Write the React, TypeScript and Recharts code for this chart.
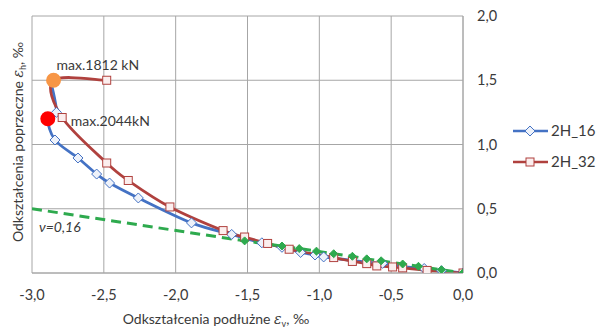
import React from 'react';
import { ComposedChart, Line, XAxis, YAxis, CartesianGrid, ReferenceDot, Customized, Label } from 'recharts';

// ---- data ----
const X_TICKS = [-3, -2.5, -2, -1.5, -1, -0.5, 0];
const Y_TICKS = [0, 0.5, 1, 1.5, 2];

const S16_X = [0, -0.15, -0.27, -0.42, -0.56, -0.67, -0.97, -1.03, -1.13, -1.26, -1.4, -1.61, -1.89, -2.26, -2.46, -2.55, -2.68, -2.84, -2.89, -2.83, -2.86];
const S16_Y = [0, 0.018, 0.035, 0.05, 0.075, 0.085, 0.125, 0.14, 0.16, 0.2, 0.235, 0.3, 0.39, 0.584, 0.7, 0.77, 0.895, 1.035, 1.2, 1.25, 1.45];

const S32_X = [0, -0.25, -0.42, -0.49, -0.6, -0.67, -0.77, -0.9, -1.21, -1.36, -1.52, -1.67, -2.04, -2.33, -2.48, -2.79, -2.85, -2.48];
const S32_Y = [0, 0.02, 0.04, 0.047, 0.055, 0.073, 0.09, 0.12, 0.185, 0.23, 0.28, 0.33, 0.514, 0.72, 0.856, 1.21, 1.5, 1.5];

const NU_X = [-3, -1.52, -1.26, -1.14, -1.02, -0.9, -0.77, -0.67, -0.57, -0.42, -0.31, -0.15, 0];
const NU_Y = [0.5, 0.25, 0.21, 0.19, 0.17, 0.15, 0.13, 0.11, 0.095, 0.07, 0.052, 0.025, 0];

const MAX_32 = { x: -2.85, y: 1.5, label: 'max.1812 kN' };
const MAX_16 = { x: -2.89, y: 1.2, label: 'max.2044kN' };
const NU_LABEL = { x: -3, y: 0.5, label: 'ν=0,16' };

const SERIES_NAMES = ['2H_16', '2H_32'];

const s16 = S16_X.map((x, i) => ({ x, y: S16_Y[i] }));
const s32 = S32_X.map((x, i) => ({ x, y: S32_Y[i] }));
const nu = NU_X.map((x, i) => ({ x, y: NU_Y[i] }));

// ---- styles ----
const FONT = 'Lato, "Open Sans", sans-serif';
const TEXT = '#3a3a3a';
const GRID = '#a6a6a6';
const BLUE = '#4472c4';
const RED = '#b0413e';
const GREEN = '#2eaa4e';

const fmt = (v: number) => v.toFixed(1).replace('.', ',');

// Excel-like smoothed curve (Catmull-Rom)
const smoothCurve: any = (context: any) => {
  let pts: number[][] = [];
  return {
    areaStart() {},
    areaEnd() {},
    lineStart() {
      pts = [];
    },
    point(x: number, y: number) {
      pts.push([+x, +y]);
    },
    lineEnd() {
      const n = pts.length;
      if (!n) return;
      context.moveTo(pts[0][0], pts[0][1]);
      const t = 1 / 6;
      for (let i = 0; i < n - 1; i++) {
        const p0 = pts[i - 1] || pts[i];
        const p1 = pts[i];
        const p2 = pts[i + 1];
        const p3 = pts[i + 2] || pts[i + 1];
        context.bezierCurveTo(
          p1[0] + (p2[0] - p0[0]) * t,
          p1[1] + (p2[1] - p0[1]) * t,
          p2[0] - (p3[0] - p1[0]) * t,
          p2[1] - (p3[1] - p1[1]) * t,
          p2[0],
          p2[1]
        );
      }
    },
  };
};

const Diamond = ({ cx, cy, color, fill, s = 5 }: any) => (
  <path
    d={`M${cx},${cy - s}L${cx + s},${cy}L${cx},${cy + s}L${cx - s},${cy}Z`}
    stroke={color}
    strokeWidth={1}
    fill={fill}
  />
);
const Square = ({ cx, cy, color, fill, s = 4 }: any) => (
  <rect x={cx - s} y={cy - s} width={2 * s} height={2 * s} stroke={color} strokeWidth={1} fill={fill} />
);

const dot16 = (props: any) => {
  const { cx, cy, index } = props;
  if (index === S16_X.length - 1 || cx == null) return <g key={`d16-${index}`} />;
  return <Diamond key={`d16-${index}`} cx={cx} cy={cy} color={BLUE} fill="#eef2fa" />;
};
const dot32 = (props: any) => {
  const { cx, cy, index } = props;
  if (cx == null) return <g key={`d32-${index}`} />;
  return <Square key={`d32-${index}`} cx={cx} cy={cy} color={RED} fill="#fbeeee" />;
};
const dotNu = (props: any) => {
  const { cx, cy, index } = props;
  if (index === 0 || cx == null) return <g key={`dn-${index}`} />;
  return <Diamond key={`dn-${index}`} cx={cx} cy={cy} color={GREEN} fill={GREEN} s={4} />;
};

const legendColors = [BLUE, RED];

const LegendBox = () => (
  <g>
    {SERIES_NAMES.map((name, i) => {
      const y = 131 + i * 31;
      return (
        <g key={name}>
          <line x1={513} x2={548} y1={y} y2={y} stroke={legendColors[i]} strokeWidth={2.5} />
          {i === 0 ? (
            <Diamond cx={530} cy={y} color={BLUE} fill="#eef2fa" />
          ) : (
            <Square cx={530} cy={y} color={RED} fill="#fbeeee" />
          )}
          <text x={551} y={y} dy="0.36em" fontFamily={FONT} fontSize={15} fill={TEXT}>
            {name}
          </text>
        </g>
      );
    })}
  </g>
);

const XTitle = (props: any) => {
  const vb = props.viewBox || { x: 0, y: 0, width: 0, height: 0 };
  return (
    <text x={216} y={vb.y + 51} textAnchor="middle" fontFamily={FONT} fontSize={14} fill={TEXT}>
      Odkształcenia podłużne{' '}
      <tspan fontStyle="italic" fontFamily="'DejaVu Serif', serif">ε</tspan>
      <tspan fontSize={9} dy={3}>v</tspan>
      <tspan dy={-3}>, ‰</tspan>
    </text>
  );
};

const YTitle = () => (
  <text
    x={0}
    y={0}
    transform="translate(23,142) rotate(-90)"
    textAnchor="middle"
    fontFamily={FONT}
    fontSize={14}
    fill={TEXT}
  >
    Odkształcenia poprzeczne{' '}
    <tspan fontStyle="italic" fontFamily="'DejaVu Serif', serif">ε</tspan>
    <tspan fontSize={9} dy={3}>h</tspan>
    <tspan dy={-3}>, ‰</tspan>
  </text>
);

const makeLabel = (text: string, dx: number, dy: number, italic = false) => (props: any) => {
  const vb = props.viewBox || { x: 0, y: 0, width: 0, height: 0 };
  const cx = vb.x + (vb.width || 0) / 2;
  const cy = vb.y + (vb.height || 0) / 2;
  return (
    <text
      x={cx + dx}
      y={cy + dy}
      dy="0.36em"
      fontFamily={FONT}
      fontSize={14}
      fontStyle={italic ? 'italic' : 'normal'}
      fill={TEXT}
    >
      {text}
    </text>
  );
};

export default function App() {
  return (
    <div style={{ position: 'absolute', left: 0, top: 0, width: 601, height: 333, background: '#fff' }}>
      <ComposedChart width={601} height={333} margin={{ top: 16, right: 88, bottom: 10, left: 0 }}>
        <CartesianGrid stroke={GRID} strokeWidth={1} />
        <XAxis
          type="number"
          dataKey="x"
          domain={[-3, 0]}
          ticks={X_TICKS}
          tickFormatter={fmt}
          allowDataOverflow
          height={50}
          tickSize={0}
          tickMargin={17}
          tickLine={false}
          axisLine={{ stroke: GRID }}
          tick={{ fontSize: 14.5, fill: TEXT, fontFamily: FONT }}
          label={<Label content={XTitle} />}
        />
        <YAxis
          yAxisId="title"
          orientation="left"
          width={32}
          domain={[0, 2]}
          tick={false}
          tickLine={false}
          axisLine={false}
          label={<Label content={YTitle} />}
        />
        <YAxis
          type="number"
          orientation="right"
          domain={[0, 2]}
          ticks={Y_TICKS}
          tickFormatter={fmt}
          allowDataOverflow
          width={50}
          tickSize={0}
          tickMargin={14}
          tickLine={false}
          axisLine={{ stroke: GRID }}
          tick={{ fontSize: 14.5, fill: TEXT, fontFamily: FONT, textAnchor: 'start' }}
        />
        <Line
          data={s16}
          dataKey="y"
          name={SERIES_NAMES[0]}
          type={smoothCurve}
          stroke={BLUE}
          strokeWidth={2.75}
          dot={dot16}
          activeDot={false}
          isAnimationActive={false}
        />
        <Line
          data={s32}
          dataKey="y"
          name={SERIES_NAMES[1]}
          type={smoothCurve}
          stroke={RED}
          strokeWidth={2.75}
          dot={dot32}
          activeDot={false}
          isAnimationActive={false}
        />
        <Line
          data={nu}
          dataKey="y"
          name="nu"
          type="linear"
          stroke={GREEN}
          strokeWidth={3}
          strokeDasharray="10 6"
          dot={dotNu}
          activeDot={false}
          isAnimationActive={false}
        />
        <ReferenceDot
          x={MAX_32.x}
          y={MAX_32.y}
          r={7.5}
          fill="#f79646"
          stroke="none"
          label={<Label content={makeLabel(MAX_32.label, 3, -15)} />}
        />
        <ReferenceDot
          x={MAX_16.x}
          y={MAX_16.y}
          r={7.5}
          fill="#ff0000"
          stroke="none"
          label={<Label content={makeLabel(MAX_16.label, 23, 2)} />}
        />
        <ReferenceDot
          x={NU_LABEL.x}
          y={NU_LABEL.y}
          r={0.1}
          fill="none"
          stroke="none"
          label={<Label content={makeLabel(NU_LABEL.label, 7, 18, true)} />}
        />
        <Customized component={LegendBox} />
      </ComposedChart>
    </div>
  );
}
